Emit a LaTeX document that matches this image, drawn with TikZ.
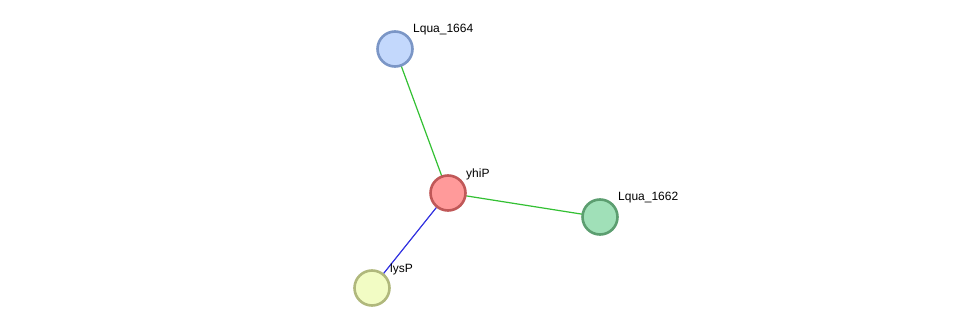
\documentclass[tikz,border=0pt]{standalone}
\usepackage{fontspec}
\setmainfont{Liberation Sans}
\definecolor{bluefill}{HTML}{C3D8FC}
\definecolor{blueline}{HTML}{7B96C6}
\definecolor{redfill}{HTML}{FF9A9A}
\definecolor{redline}{HTML}{C05858}
\definecolor{greenfill}{HTML}{A0E0B8}
\definecolor{greenline}{HTML}{5C9E70}
\definecolor{yelfill}{HTML}{F2FCC4}
\definecolor{yelline}{HTML}{B0B87C}
\definecolor{edgegreen}{HTML}{33C033}
\definecolor{edgeblue}{HTML}{3333E0}
\begin{document}
\begin{tikzpicture}[x=1pt,y=-1pt,
  prot/.style={circle,minimum size=35pt,inner sep=0pt,line width=2.6pt},
  lbl/.style={anchor=west,inner sep=0pt,font=\fontsize{12}{14}\selectfont},
  gedge/.style={edgegreen,line width=1.2pt},
  bedge/.style={edgeblue,line width=1.2pt}]
\useasboundingbox (0,0) rectangle (976,334);
\coordinate (c1664) at (395,49);
\coordinate (cyhiP) at (448,193);
\coordinate (c1662) at (600,217);
\coordinate (clysP) at (372,288);
\draw[gedge] (c1664) -- (cyhiP);
\draw[gedge] (cyhiP) -- (c1662);
\draw[bedge] (cyhiP) -- (clysP);
\node[prot,draw=blueline,fill=bluefill] (l1664) at (c1664) {};
\node[prot,draw=redline,fill=redfill] (yhiP) at (cyhiP) {};
\node[prot,draw=greenline,fill=greenfill] (l1662) at (c1662) {};
\node[prot,draw=yelline,fill=yelfill] (lysP) at (clysP) {};
\node[lbl] (t1664) at (413,30) {Lqua\_1664};
\node[lbl] (tyhiP) at (466,174) {yhiP};
\node[lbl] (t1662) at (618,198) {Lqua\_1662};
\node[lbl] (tlysP) at (390,269) {lysP};
\end{tikzpicture}
\end{document}
